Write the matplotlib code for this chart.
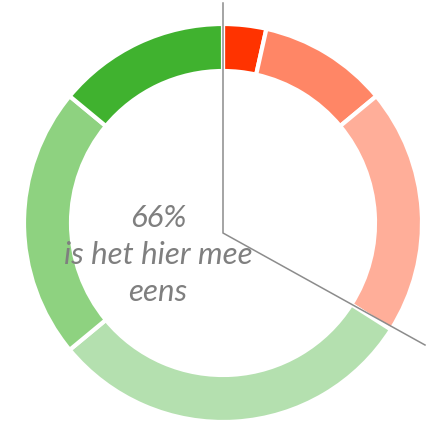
"""
Donut chart: share of people agreeing (greens) vs disagreeing (reds).
"""
import matplotlib
matplotlib.use("Agg")
import matplotlib.pyplot as plt

# answer categories, clockwise from 12 o'clock
answers = ["helemaal oneens", "oneens", "beetje oneens",
           "beetje eens", "eens", "helemaal eens"]
shares = [3.5, 10.5, 20, 30, 22, 14]
colors = ["#FF3300", "#FF8666", "#FFAE99", "#B4E0AF", "#8ED280", "#40B22F"]
center_label = ["66%", "is het hier mee", "eens"]

fig = plt.figure(figsize=(4.29, 4.23), dpi=100)
ax = fig.add_axes([0, 0, 1, 1])

ax.pie(shares, colors=colors, radius=199, startangle=90, counterclock=False,
       wedgeprops=dict(width=47, edgecolor="white", linewidth=3))

ax.set_xlim(-223, 206)
ax.set_ylim(-200, 223)
ax.set_aspect("equal")
ax.axis("off")

# divider lines marking the "eens" part
ax.plot([0, 0, 202], [220, -10, -122], color="#8C8C8C", linewidth=1.1,
        solid_joinstyle="miter", zorder=5)

for i, line in enumerate(center_label):
    ax.text(-65, -4 - 37 * i, line, ha="center", va="baseline",
            fontsize=22.5, style="italic", family="Lato", color="#7F7F7F")

fig.savefig("out.png", dpi=100)
